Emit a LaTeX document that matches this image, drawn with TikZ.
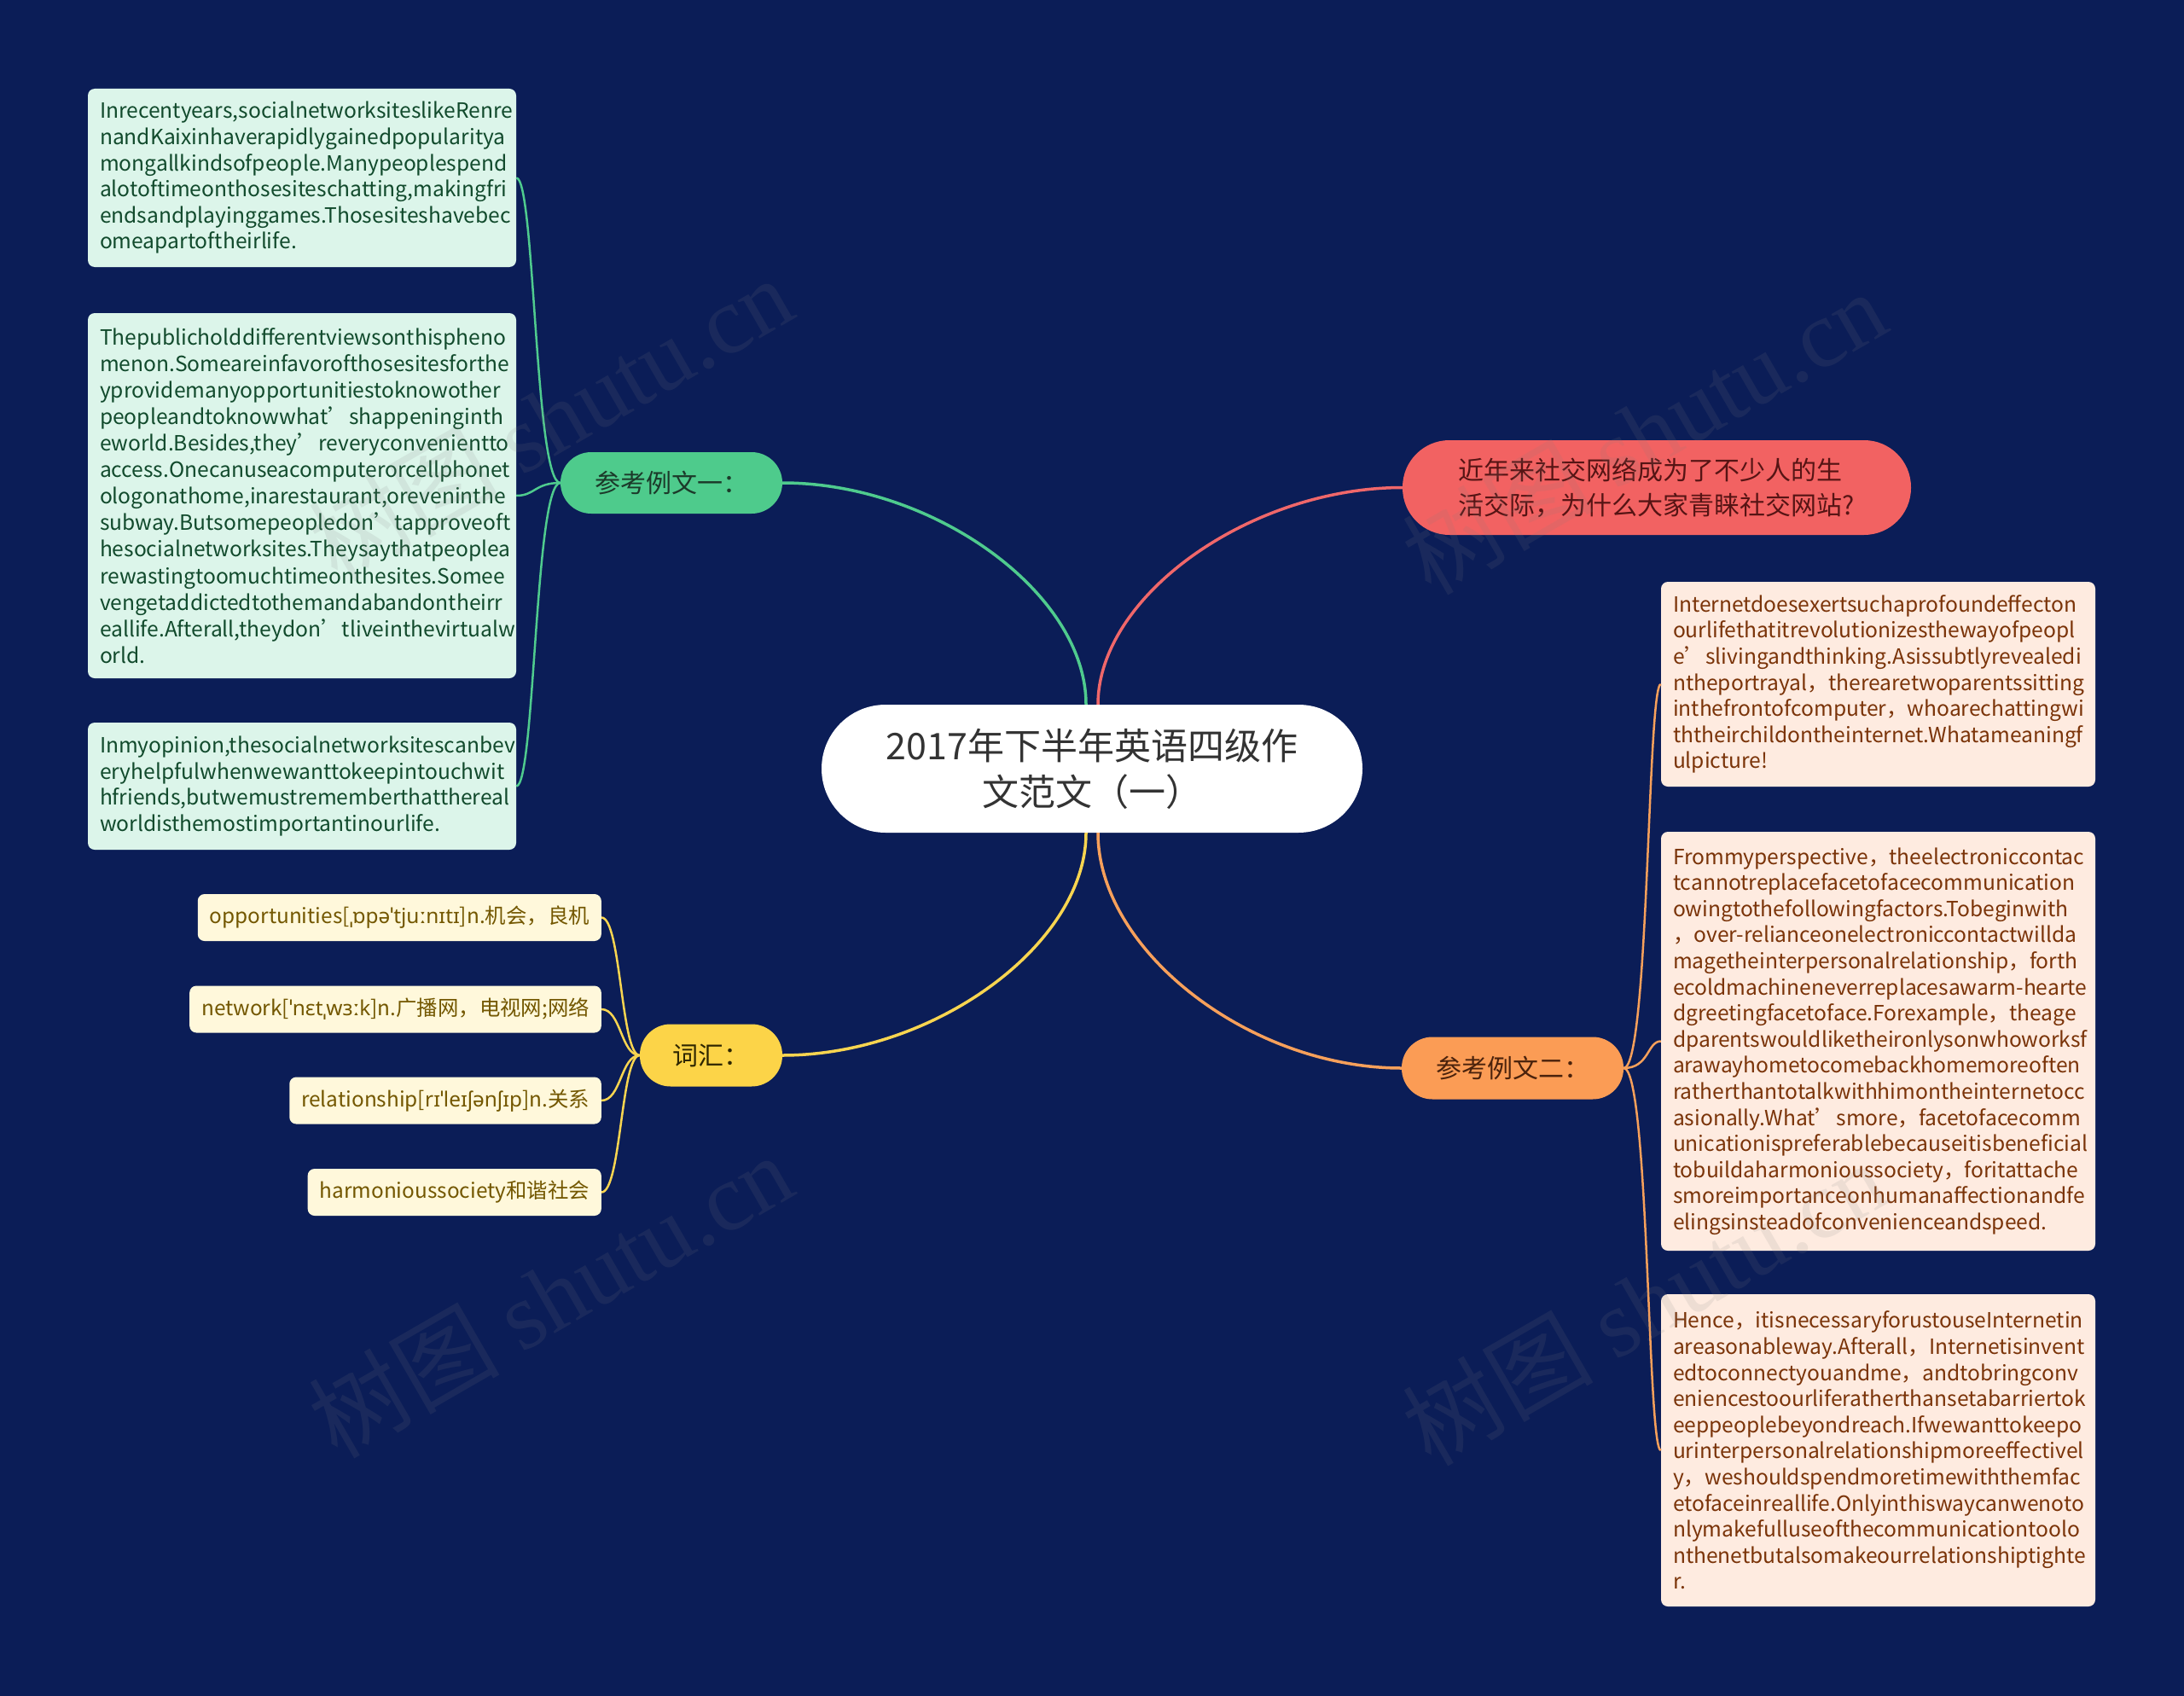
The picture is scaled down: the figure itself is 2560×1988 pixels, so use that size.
\documentclass[tikz,border=0pt]{standalone}
\usepackage{fontspec}
\setmainfont{Noto Sans CJK SC}
\newfontfamily\ipaf{Noto Sans}
\newfontfamily\wmlatin{Liberation Serif}
\usetikzlibrary{calc}
\definecolor{bg}{HTML}{0B1D57}
\definecolor{gfill}{HTML}{4ECB8C}
\definecolor{gtext}{HTML}{1C3A2A}
\definecolor{rfill}{HTML}{F26262}
\definecolor{rtext}{HTML}{561414}
\definecolor{ofill}{HTML}{FB9C55}
\definecolor{otext}{HTML}{4A220C}
\definecolor{yfill}{HTML}{FCD448}
\definecolor{ytext}{HTML}{2E2600}
\definecolor{lgfill}{HTML}{DCF5EA}
\definecolor{lgtext}{HTML}{114A2C}
\definecolor{lyfill}{HTML}{FFF8DB}
\definecolor{lytext}{HTML}{735700}
\definecolor{lofill}{HTML}{FEEBE0}
\definecolor{lotext}{HTML}{7A3308}
\definecolor{gline}{HTML}{4FCB8E}
\definecolor{rline}{HTML}{F0676A}
\definecolor{yline}{HTML}{F8D550}
\definecolor{oline}{HTML}{F7A05B}
\newcommand\lfnt{\fontsize{24.6}{30.6}\selectfont}
\newcommand\lfntb{\fontsize{24.6}{31.1}\selectfont}
\newcommand\vfnt{\fontsize{24.4}{30}\selectfont}
\newcommand\bfnt{\fontsize{30}{41}\selectfont}
\newcommand\cfnt{\fontsize{43}{54}\selectfont}
\tikzset{
  branch/.style={inner sep=0pt, align=center, font=\bfnt},
  leafbox/.style={rounded corners=8pt, inner xsep=14pt, inner ysep=0pt, align=left, font=\lfnt, text width=#1},
  vocab/.style={fill=lyfill, text=lytext, rounded corners=8pt, inner xsep=14pt, inner ysep=0pt, minimum height=55pt, anchor=east, font=\vfnt},
  bconn/.style={line width=3.5pt},
  lconn/.style={line width=2.5pt},
  wm/.style={text=gray, opacity=0.13, font=\fontsize{112}{116}\selectfont, rotate=30}
}
\begin{document}
\begin{tikzpicture}[x=1pt,y=-1pt]
\path[fill=bg] (0,0) rectangle (2560,1988);
\useasboundingbox (0,0) rectangle (2560,1988);

% main and branch nodes
\node[fill=white, text=black!80, rounded corners=75pt, minimum width=634pt, minimum height=150pt, align=center, font=\cfnt, inner sep=0pt] (ctr) at (1280,901) {2017年下半年英语四级作\\文范文（一）};
\node[branch, fill=gfill, text=gtext, rounded corners=36pt, minimum width=260pt, minimum height=72pt] (g) at (787,566) {参考例文一：};
\node[branch, fill=rfill, text=rtext, rounded corners=55pt, minimum width=596pt, minimum height=111pt, align=left] (r) at (1942,571.5) {近年来社交网络成为了不少人的生\\活交际，为什么大家青睐社交网站?};
\node[branch, fill=ofill, text=otext, rounded corners=36pt, minimum width=260pt, minimum height=73pt] (o) at (1773,1252) {参考例文二：};
\node[branch, fill=yfill, text=ytext, rounded corners=36pt, minimum width=167pt, minimum height=73pt] (y) at (833.5,1237) {词汇：};

% green leaves
\node[leafbox=474pt, fill=lgfill, text=lgtext, minimum width=502pt, minimum height=209pt] (gl1) at (354,208.5) {Inrecentyears,socialnetworksiteslikeRenre\\nandKaixinhaverapidlygainedpopularitya\\mongallkindsofpeople.Manypeoplespend\\alotoftimeonthosesiteschatting,makingfri\\endsandplayinggames.Thosesiteshavebec\\omeapartoftheirlife.};
\node[leafbox=474pt, fill=lgfill, text=lgtext, minimum width=502pt, minimum height=428pt, font=\lfntb] (gl2) at (354,581) {Thepublicholddifferentviewsonthispheno\\menon.Someareinfavorofthosesitesforthe\\yprovidemanyopportunitiestoknowother\\peopleandtoknowwhat’shappeninginth\\eworld.Besides,they’reveryconvenientto\\access.Onecanuseacomputerorcellphonet\\ologonathome,inarestaurant,oreveninthe\\subway.Butsomepeopledon’tapproveoft\\hesocialnetworksites.Theysaythatpeoplea\\rewastingtoomuchtimeonthesites.Somee\\vengetaddictedtothemandabandontheirr\\eallife.Afterall,theydon’tliveinthevirtualw\\orld.};
\node[leafbox=474pt, fill=lgfill, text=lgtext, minimum width=502pt, minimum height=149pt] (gl3) at (354,921.5) {Inmyopinion,thesocialnetworksitescanbev\\eryhelpfulwhenwewanttokeepintouchwit\\hfriends,butwemustrememberthatthereal\\worldisthemostimportantinourlife.};

% vocab leaves
\node[vocab] (v1) at (705,1075.5) {opportunities[{\ipaf ˌɒpəˈtjuːnɪtɪ}]n.机会，良机};
\node[vocab] (v2) at (705,1183) {network[{\ipaf ˈnɛtˌwɜːk}]n.广播网，电视网;网络};
\node[vocab] (v3) at (705,1290) {relationship[{\ipaf rɪˈleɪʃənʃɪp}]n.关系};
\node[vocab] (v4) at (705,1397.5) {harmonioussociety和谐社会};

% orange leaves
\node[leafbox=481pt, fill=lofill, text=lotext, minimum width=509pt, minimum height=240pt] (or1) at (2201.5,802) {Internetdoesexertsuchaprofoundeffecton\\ourlifethatitrevolutionizesthewayofpeopl\\e’slivingandthinking.Asissubtlyrevealedi\\ntheportrayal，therearetwoparentssitting\\inthefrontofcomputer，whoarechattingwi\\ththeirchildontheinternet.Whatameaningf\\ulpicture!};
\node[leafbox=481pt, fill=lofill, text=lotext, minimum width=509pt, minimum height=491pt] (or2) at (2201.5,1220.5) {Frommyperspective，theelectroniccontac\\tcannotreplacefacetofacecommunication\\owingtothefollowingfactors.Tobeginwith\\\mbox{，over-relianceonelectroniccontactwillda}\\magetheinterpersonalrelationship，forth\\\mbox{ecoldmachineneverreplacesawarm-hearte}\\dgreetingfacetoface.Forexample，theage\\dparentswouldliketheironlysonwhoworksf\\arawayhometocomebackhomemoreoften\\ratherthantotalkwithhimontheinternetocc\\asionally.What’smore，facetofacecomm\\unicationispreferablebecauseitisbeneficial\\tobuildaharmonioussociety，foritattache\\smoreimportanceonhumanaffectionandfe\\elingsinsteadofconvenienceandspeed.};
\node[leafbox=481pt, fill=lofill, text=lotext, minimum width=509pt, minimum height=366pt] (or3) at (2201.5,1700) {Hence，itisnecessaryforustouseInternetin\\areasonableway.Afterall，Internetisinvent\\edtoconnectyouandme，andtobringconv\\eniencestoourliferatherthansetabarriertok\\eeppeoplebeyondreach.Ifwewanttokeepo\\urinterpersonalrelationshipmoreeffectivel\\y，weshouldspendmoretimewiththemfac\\etofaceinreallife.Onlyinthiswaycanwenoto\\nlymakefulluseofthecommunicationtoolo\\nthenetbutalsomakeourrelationshiptighte\\r.};

% branch connectors
\coordinate (cnw) at ([xshift=-7pt]ctr.north);
\coordinate (cne) at ([xshift=7pt]ctr.north);
\coordinate (csw) at ([xshift=-7pt]ctr.south);
\coordinate (cse) at ([xshift=7pt]ctr.south);
\draw[bconn, gline] (cnw) .. controls ($(cnw)!0.5!(cnw |- g.east)$) and ($(g.east)!0.5!(cnw |- g.east)$) .. (g.east);
\draw[bconn, rline] (cne) .. controls ($(cne)!0.5!(cne |- r.west)$) and ($(r.west)!0.5!(cne |- r.west)$) .. (r.west);
\draw[bconn, yline] (csw) .. controls ($(csw)!0.5!(csw |- y.east)$) and ($(y.east)!0.5!(csw |- y.east)$) .. (y.east);
\draw[bconn, oline] (cse) .. controls ($(cse)!0.5!(cse |- o.west)$) and ($(o.west)!0.5!(cse |- o.west)$) .. (o.west);

% leaf connectors
\foreach \c in {gl1,gl2,gl3}
  \draw[lconn, gline] (g.west) .. controls ($(g.west)+(-30,0)$) and ($(\c.east)+(22,0)$) .. (\c.east);
\foreach \c in {v1,v2,v3,v4}
  \draw[lconn, yline] (y.west) .. controls ($(y.west)+(-22,0)$) and ($(\c.east)+(23,0)$) .. (\c.east);
\foreach \c in {or1,or2,or3}
  \draw[lconn, oline] (o.east) .. controls ($(o.east)+(30,0)$) and ($(\c.west)+(-16,0)$) .. (\c.west);

% watermarks
\node[wm] (wm1) at (645,490) {树图 {\wmlatin shutu.cn}};
\node[wm] (wm2) at (1927,506) {树图 {\wmlatin shutu.cn}};
\node[wm] (wm3) at (645,1518) {树图 {\wmlatin shutu.cn}};
\node[wm] (wm4) at (1927,1527) {树图 {\wmlatin shutu.cn}};
\end{tikzpicture}
\end{document}
